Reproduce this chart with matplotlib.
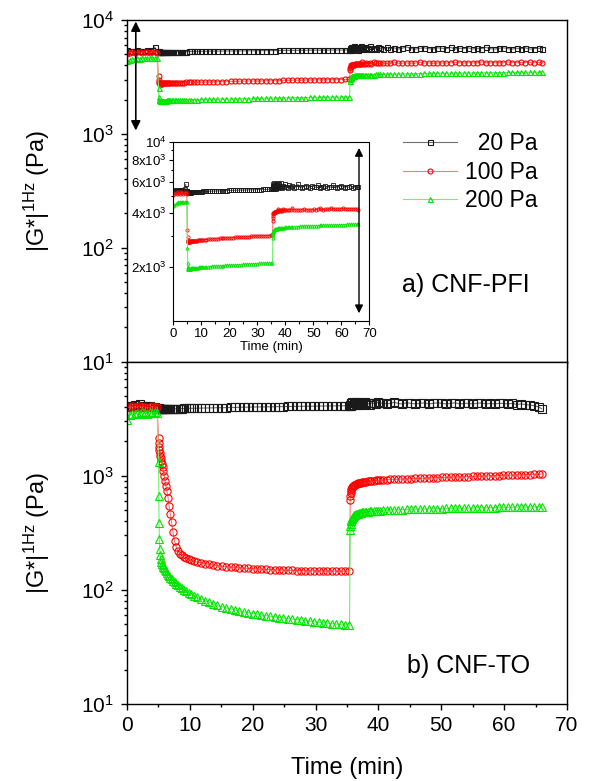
import matplotlib
matplotlib.use('Agg')
import matplotlib.pyplot as plt
from matplotlib.ticker import MultipleLocator, FixedLocator, FixedFormatter, LogLocator, NullFormatter

plt.rcParams['font.family'] = ['Liberation Sans', 'DejaVu Sans']
plt.rcParams['mathtext.fontset'] = 'custom'
plt.rcParams['mathtext.rm'] = 'Liberation Sans'
plt.rcParams['mathtext.it'] = 'Liberation Sans:italic'
plt.rcParams['mathtext.bf'] = 'Liberation Sans:bold'

# time of each measurement (min), same protocol for both samples
time_min = [
    # 20 Pa step
    0.0, 0.4, 0.8, 1.2, 1.6, 2.0, 2.4, 2.8, 3.2, 3.6, 4.0, 4.4, 4.8,
    # loaded step
    5.02, 5.06, 5.10, 5.15, 5.21, 5.28, 5.36, 5.45, 5.55, 5.66, 5.78, 5.91, 6.05, 6.20, 6.36, 6.53,
    6.71, 6.90, 7.10, 7.32, 7.56, 7.82, 8.10, 8.40, 8.72, 9.06, 9.42, 9.80, 10.2, 10.7, 11.2, 11.8,
    12.4, 13.0, 13.7, 14.4, 15.1, 15.8, 16.5, 17.2, 17.9, 18.6, 19.3, 20.0, 20.7, 21.4, 22.1, 22.8,
    23.5, 24.2, 24.9, 25.6, 26.3, 27.0, 27.7, 28.4, 29.1, 29.8, 30.5, 31.2, 31.9, 32.6, 33.3, 34.0,
    34.7, 35.4,
    # recovery step
    35.52, 35.56, 35.60, 35.65, 35.71, 35.78, 35.86, 35.95, 36.05, 36.16, 36.28, 36.41, 36.55, 36.70,
    36.86, 37.03, 37.21, 37.40, 37.60, 37.82, 38.06, 38.32, 38.60, 38.90, 39.22, 39.56, 39.92, 40.3,
    40.8, 41.3, 41.9, 42.5, 43.1, 43.8, 44.5, 45.2, 45.9, 46.6, 47.3, 48.0, 48.7, 49.4, 50.1, 50.8,
    51.5, 52.2, 52.9, 53.6, 54.3, 55.0, 55.7, 56.4, 57.1, 57.8, 58.5, 59.2, 59.9, 60.6, 61.3, 62.0,
    62.7, 63.4, 64.1, 64.8, 65.5, 66.0,
]

# a) CNF-PFI, |G*| (Pa)
pfi_20 = [
    5400, 5350, 5310, 5380, 5420, 5360, 5330, 5390, 5410, 5350, 5450, 5800, 5300,
    5300, 5270, 5250, 5240, 5230, 5230, 5220, 5220, 5230, 5220, 5230, 5230, 5240, 5230, 5240, 5240,
    5250, 5250, 5250, 5260, 5260, 5260, 5270, 5270, 5280, 5280, 5280, 5290, 5290, 5300, 5300, 5310,
    5310, 5320, 5320, 5330, 5330, 5340, 5340, 5350, 5350, 5360, 5360, 5370, 5370, 5380, 5380, 5390,
    5390, 5400, 5400, 5400, 5410, 5410, 5420, 5420, 5420, 5430, 5430, 5430, 5440, 5440, 5440, 5450,
    5450, 5450,
    5650, 5500, 5700, 5550, 5800, 5480, 5750, 5600, 5900, 5520, 5700, 5650, 5850, 5500,
    5750, 5600, 5950, 5550, 5700, 5800, 5600, 5650, 5900, 5550, 5700, 5600, 5800, 5650,
    5550, 5750, 5600, 5700, 5550, 5650, 5800, 5600, 5550, 5650, 5700, 5600, 5550, 5700,
    5650, 5600, 5750, 5550, 5650, 5600, 5700, 5550, 5650, 5600, 5750, 5600, 5550, 5650,
    5700, 5600, 5550, 5650, 5600, 5700, 5550, 5600, 5650, 5580,
]
pfi_100 = [
    5050, 5150, 5200, 5100, 5250, 5200, 5150, 5250, 5200, 5100, 5200, 5250, 5150,
    3220, 2950, 2850, 2800, 2780, 2770, 2760, 2760, 2760, 2770, 2770, 2770, 2780, 2780, 2780, 2790,
    2790, 2790, 2800, 2800, 2800, 2810, 2810, 2810, 2820, 2820, 2830, 2830, 2840, 2840, 2850, 2850,
    2860, 2860, 2870, 2870, 2880, 2880, 2890, 2890, 2900, 2900, 2910, 2910, 2920, 2920, 2930, 2930,
    2940, 2940, 2950, 2950, 2960, 2960, 2965, 2970, 2975, 2980, 2985, 2990, 2990, 2995, 3000, 3000,
    3005, 3010,
    3630, 3780, 3880, 3950, 3990, 4010, 4030, 4040, 4050, 4060, 4070, 4080, 4080, 4090,
    4100, 4100, 4110, 4250, 4100, 4120, 4200, 4130, 4150, 4140, 4250, 4150, 4160, 4150,
    4200, 4160, 4170, 4280, 4170, 4180, 4200, 4180, 4190, 4250, 4190, 4200, 4180, 4200,
    4210, 4200, 4210, 4260, 4210, 4200, 4220, 4210, 4220, 4300, 4220, 4210, 4230, 4220,
    4230, 4280, 4230, 4220, 4240, 4230, 4250, 4220, 4240, 4180,
]
pfi_200 = [
    4400, 4450, 4500, 4550, 4600, 4580, 4620, 4600, 4650, 4600, 4620, 4640, 4600,
    2540, 2100, 2000, 1970, 1960, 1955, 1950, 1950, 1950, 1955, 1955, 1960, 1960, 1960, 1965, 1965,
    1970, 1970, 1970, 1975, 1975, 1980, 1980, 1985, 1985, 1990, 1990, 1995, 1995, 2000, 2000, 2005,
    2005, 2010, 2015, 2020, 2020, 2025, 2030, 2030, 2035, 2040, 2040, 2045, 2050, 2050, 2055, 2060,
    2060, 2065, 2070, 2070, 2075, 2080, 2080, 2085, 2090, 2090, 2095, 2100, 2100, 2105, 2105, 2110,
    2110, 2115,
    2900, 3020, 3100, 3150, 3180, 3200, 3220, 3230, 3240, 3250, 3260, 3265, 3270, 3275,
    3280, 3285, 3290, 3295, 3300, 3300, 3305, 3310, 3315, 3320, 3320, 3325, 3330, 3335,
    3340, 3345, 3350, 3355, 3360, 3365, 3370, 3375, 3380, 3385, 3390, 3395, 3400, 3405,
    3410, 3410, 3415, 3420, 3420, 3425, 3430, 3430, 3435, 3440, 3440, 3445, 3450, 3450,
    3455, 3460, 3460, 3465, 3470, 3470, 3475, 3480, 3480, 3500,
]

# b) CNF-TO, |G*| (Pa)
to_20 = [
    4050, 4000, 4080, 4120, 4030, 4250, 4100, 4000, 4060, 4100, 4020, 3980, 3950,
    3900, 3880, 3860, 3850, 3840, 3830, 3830, 3820, 3820, 3820, 3820, 3820, 3830, 3830, 3830, 3840,
    3840, 3840, 3850, 3850, 3850, 3860, 3860, 3870, 3870, 3880, 3880, 3890, 3890, 3900, 3900, 3910,
    3920, 3920, 3930, 3940, 3940, 3950, 3960, 3960, 3970, 3980, 3980, 3990, 4000, 4000, 4010, 4010,
    4020, 4030, 4030, 4040, 4040, 4050, 4050, 4060, 4060, 4070, 4070, 4080, 4080, 4090, 4090, 4100,
    4100, 4110,
    4200, 4050, 4300, 4100, 4350, 4150, 4400, 4200, 4300, 4150, 4450, 4250, 4300, 4200,
    4400, 4250, 4350, 4200, 4300, 4400, 4250, 4300, 4200, 4350, 4300, 4250, 4400, 4300,
    4350, 4250, 4300, 4400, 4300, 4250, 4350, 4300, 4250, 4300, 4350, 4250, 4300, 4350,
    4300, 4250, 4300, 4350, 4250, 4300, 4300, 4250, 4300, 4350, 4250, 4300, 4250, 4300,
    4300, 4250, 4300, 4200, 4250, 4200, 4150, 4100, 4000, 3850,
]
to_100 = [
    4000, 3950, 4050, 4000, 3980, 4100, 4000, 4020, 3950, 4000, 4050, 3980, 4000,
    2140, 1950, 1800, 1690, 1590, 1500, 1420, 1340, 1260, 1180, 1090, 1000, 890, 810, 730, 640,
    540, 460, 390, 320, 268, 238, 218, 207, 200, 194, 189, 185, 181, 178, 175, 172,
    170, 167.5, 165, 163, 161, 159.5, 158, 157, 156, 155, 154, 153, 152.3, 151.6, 151, 150.4,
    149.8, 149.3, 148.8, 148.3, 148, 147.7, 147.4, 147.1, 146.9, 146.7, 146.5, 146.3, 146.1, 146, 145.9, 145.8,
    145.7, 145.6,
    611, 660, 700, 735, 760, 780, 795, 808, 818, 828, 836, 843, 850, 856,
    861, 866, 871, 875, 880, 884, 888, 892, 896, 900, 904, 908, 912, 915,
    919, 922, 926, 929, 932, 936, 939, 942, 946, 949, 952, 955, 958, 961,
    964, 967, 970, 973, 976, 979, 982, 985, 988, 991, 994, 997, 1000, 1003,
    1006, 1009, 1012, 1015, 1018, 1021, 1024, 1027, 1030, 1032,
]
to_200 = [
    3050, 3400, 3500, 3450, 3550, 3500, 3600, 3550, 3500, 3600, 3550, 3600, 3550,
    1330, 660, 384, 277, 226, 200, 186, 177, 170, 165, 160, 155, 150, 145, 140, 136,
    132, 128, 124, 120, 116.5, 113, 109.5, 106, 103, 100, 97, 94.5, 92, 89, 86, 83,
    80.5, 78, 75.5, 73, 71, 69.5, 68, 66.5, 65.2, 64, 63, 62, 61, 60.2, 59.4, 58.6,
    57.9, 57.2, 56.5, 55.9, 55.3, 54.7, 54.1, 53.5, 53.0, 52.5, 52.0, 51.5, 51.0, 50.6, 50.2, 49.8,
    49.4, 49.0,
    333, 360, 381, 398, 410, 421, 430, 437, 443, 449, 454, 458, 462, 466,
    469, 472, 475, 477, 479, 481, 483, 485, 487, 489, 490, 492, 493, 495,
    497, 498, 500, 502, 503, 505, 506, 507, 509, 510, 511, 512, 513, 514,
    515, 516, 517, 518, 519, 520, 521, 522, 523, 524, 525, 525, 526, 527,
    528, 528, 529, 530, 530, 531, 532, 532, 533, 533,
]

stress_labels = ['  20 Pa', '100 Pa', '200 Pa']
markers = ['s', 'o', '^']
mark_colors = ['#1a1a1a', '#ff0000', '#00e600']
line_colors = ['#707070', '#ff7a7a', '#70f070']


def draw(ax, series, ms, mew):
    for y, lab, m, mc, lc in zip(series, stress_labels, markers, mark_colors, line_colors):
        ax.plot(time_min, y, marker=m, ms=ms, mfc='none', mec=mc, mew=mew,
                color=lc, lw=0.8, label=lab)


def style_main(ax):
    ax.set_yscale('log')
    ax.set_xlim(0, 70)
    ax.set_ylim(10, 1e4)
    ax.xaxis.set_major_locator(MultipleLocator(10))
    ax.xaxis.set_minor_locator(MultipleLocator(5))
    ax.yaxis.set_minor_locator(LogLocator(base=10, subs=[2, 3, 4, 5, 6, 7, 8, 9], numticks=20))
    ax.yaxis.set_minor_formatter(NullFormatter())
    ax.tick_params(which='both', direction='out', top=False, right=False, width=1)
    ax.tick_params(which='major', length=4.5, labelsize=15, pad=4)
    ax.tick_params(axis='y', which='major', pad=5)
    ax.tick_params(which='minor', length=2.5)
    for sp in ax.spines.values():
        sp.set_linewidth(1.0)


fig = plt.figure(figsize=(5.89, 7.81), dpi=100)
ax_a = fig.add_axes([0.2156, 0.5371, 0.7470, 0.4373])
ax_b = fig.add_axes([0.2156, 0.0986, 0.7470, 0.4385])

draw(ax_a, [pfi_20, pfi_100, pfi_200], ms=3.6, mew=0.8)
draw(ax_b, [to_20, to_100, to_200], ms=5.2, mew=0.8)

style_main(ax_a)
style_main(ax_b)
ax_a.tick_params(labelbottom=False)
ax_b.set_yticks([10, 100, 1000])

ax_a.annotate('', xy=(1.4, 9700), xytext=(1.4, 1070),
              arrowprops=dict(arrowstyle='<|-|>', color='k', lw=1.2, mutation_scale=14,
                              shrinkA=0, shrinkB=0))

leg = ax_a.legend(loc='upper left', bbox_to_anchor=(0.627, 0.672), frameon=False,
                  fontsize=16.5, handlelength=2.35, handletextpad=0.35, labelspacing=0.25,
                  borderpad=0, borderaxespad=0, numpoints=1)

ax_a.text(0.916, 0.223, 'a) CNF-PFI', transform=ax_a.transAxes, ha='right', va='center', fontsize=18)
ax_b.text(0.916, 0.110, 'b) CNF-TO', transform=ax_b.transAxes, ha='right', va='center', fontsize=18)

ylab = '|G*|$^{\\mathrm{1Hz}}$ (Pa)'
fig.text(37 / 589, 0.7558, ylab, rotation=90, ha='center', va='center', fontsize=17)
fig.text(37 / 589, 0.3179, ylab, rotation=90, ha='center', va='center', fontsize=17)
fig.text(0.589, 1 - 768 / 781, 'Time (min)', ha='center', va='center', fontsize=17)

# inset: same CNF-PFI data, zoomed range
ax_in = fig.add_axes([0.2943, 0.5894, 0.3328, 0.2284])
draw(ax_in, [pfi_20, pfi_100, pfi_200], ms=2.3, mew=0.6)
ax_in.set_yscale('log')
ax_in.set_xlim(0, 70)
ax_in.set_ylim(1000, 10000)
ax_in.xaxis.set_major_locator(MultipleLocator(10))
ax_in.xaxis.set_minor_locator(MultipleLocator(5))
ax_in.yaxis.set_major_locator(FixedLocator([2000, 4000, 6000, 8000, 10000]))
ax_in.yaxis.set_major_formatter(FixedFormatter(['2x10$^3$', '4x10$^3$', '6x10$^3$', '8x10$^3$', '10$^4$']))
ax_in.yaxis.set_minor_locator(FixedLocator([3000, 5000, 7000, 9000]))
ax_in.yaxis.set_minor_formatter(NullFormatter())
ax_in.tick_params(which='both', direction='out', top=False, right=False, width=0.8)
ax_in.tick_params(which='major', length=3, labelsize=9.5, pad=2)
ax_in.tick_params(which='minor', length=1.8)
ax_in.set_xlabel('Time (min)', fontsize=9.5, labelpad=1)
for sp in ax_in.spines.values():
    sp.set_linewidth(0.8)
ax_in.annotate('', xy=(66.3, 9300), xytext=(66.3, 1100),
               arrowprops=dict(arrowstyle='<|-|>', color='k', lw=1.0, mutation_scale=12,
                               shrinkA=0, shrinkB=0))

fig.savefig('out.png', dpi=100)
